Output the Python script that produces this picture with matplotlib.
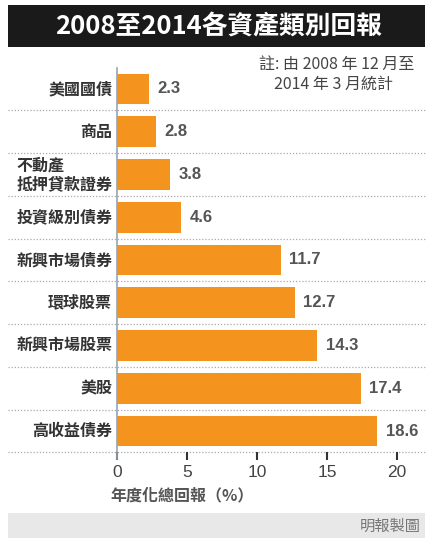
import matplotlib
matplotlib.use("Agg")
import matplotlib.pyplot as plt
from matplotlib.patches import Rectangle
import matplotlib.transforms as mtransforms

plt.rcParams['font.family'] = ['Noto Sans CJK TC', 'DejaVu Sans']

title = "2008至2014各資產類別回報"
note_lines = ["註: 由 2008 年 12 月至", "2014 年 3 月統計"]
categories = ["美國國債", "商品", "不動產\n抵押貸款證券", "投資級別債券", "新興市場債券",
              "環球股票", "新興市場股票", "美股", "高收益債券"]
values = [2.3, 2.8, 3.8, 4.6, 11.7, 12.7, 14.3, 17.4, 18.6]
value_labels = ["2.3", "2.8", "3.8", "4.6", "11.7", "12.7", "14.3", "17.4", "18.6"]
xticks = [0, 5, 10, 15, 20]
xlabel = "年度化總回報（%）"
source = "明報製圖"

W, H = 430, 540
fig = plt.figure(figsize=(W / 100, H / 100), dpi=100)
fig.patch.set_facecolor('white')

def fx(px):
    return px / W

def fy(py):
    return 1 - py / H

# axes: x 117..397 px, y 67.6..452.4 px
ax_left, ax_right, ax_top, ax_bot = 117, 397, 67.6, 452.4
ax = fig.add_axes([fx(ax_left), fy(ax_bot), fx(ax_right - ax_left), (ax_bot - ax_top) / H])
ax.set_xlim(0, 20)
n = len(categories)
ax.set_ylim(n - 0.5, -0.5)
ax.set_facecolor('none')
for s in ax.spines.values():
    s.set_visible(False)

ypos = list(range(n))
ax.barh(ypos, values, height=0.72, color='#F5931F', zorder=3)

# dotted separators across the full width
trans = mtransforms.blended_transform_factory(fig.transFigure, ax.transData)
for i in range(n):
    ax.plot([fx(8), fx(425)], [i + 0.5, i + 0.5], transform=trans, color='#AAAAAA',
            linestyle=(0, (1, 1.5)), linewidth=0.9, clip_on=False, zorder=1)

# zero line
ax.plot([0, 0], [-0.5, n - 0.5 + 0.15], color='#9AA3B0', linewidth=1.2, clip_on=False, zorder=4)

# category labels
for i, c in enumerate(categories):
    ax.text(-0.35, i, c, ha='right', va='center', fontsize=11.5, fontweight='bold',
            color='#333333', multialignment='left', linespacing=1.2)

# value labels
for i, (v, lab) in enumerate(zip(values, value_labels)):
    ax.text(v + 0.6, i, lab, ha='left', va='center', fontsize=12, fontweight='bold',
            color='#555555', family=['Liberation Sans', 'DejaVu Sans'])

ax.set_xticks(xticks)
ax.set_xticklabels([str(t) for t in xticks], fontsize=12.5, color='#444444',
                   family=['Liberation Sans', 'DejaVu Sans'])
ax.tick_params(axis='x', length=6, width=1.5, color='#333333', pad=3, direction='out')
ax.set_yticks([])

# axis label
fig.text(fx(110), fy(495), xlabel, ha='left', va='center', fontsize=11.5, fontweight='bold',
         color='#555555')

# title bar
fig.patches.append(Rectangle((fx(8), fy(47)), fx(417), (47 - 5) / H, transform=fig.transFigure,
                             facecolor='#1a1a1a', edgecolor='none', zorder=0))
fig.text(fx(219), fy(26), title, ha='center', va='center', fontsize=18.5, fontweight='bold',
         color='white')

# note
fig.text(fx(414), fy(64), note_lines[0], ha='right', va='center', fontsize=11.5, color='#444444')
fig.text(fx(333), fy(84), note_lines[1], ha='center', va='center', fontsize=11.5, color='#444444')

# footer
fig.patches.append(Rectangle((fx(8), fy(538)), fx(417), (538 - 513) / H, transform=fig.transFigure,
                             facecolor='#E8E8E8', edgecolor='none', zorder=0))
fig.text(fx(421), fy(526), source, ha='right', va='center', fontsize=11, color='#777777')

fig.savefig('out.png', dpi=100, facecolor='white')
